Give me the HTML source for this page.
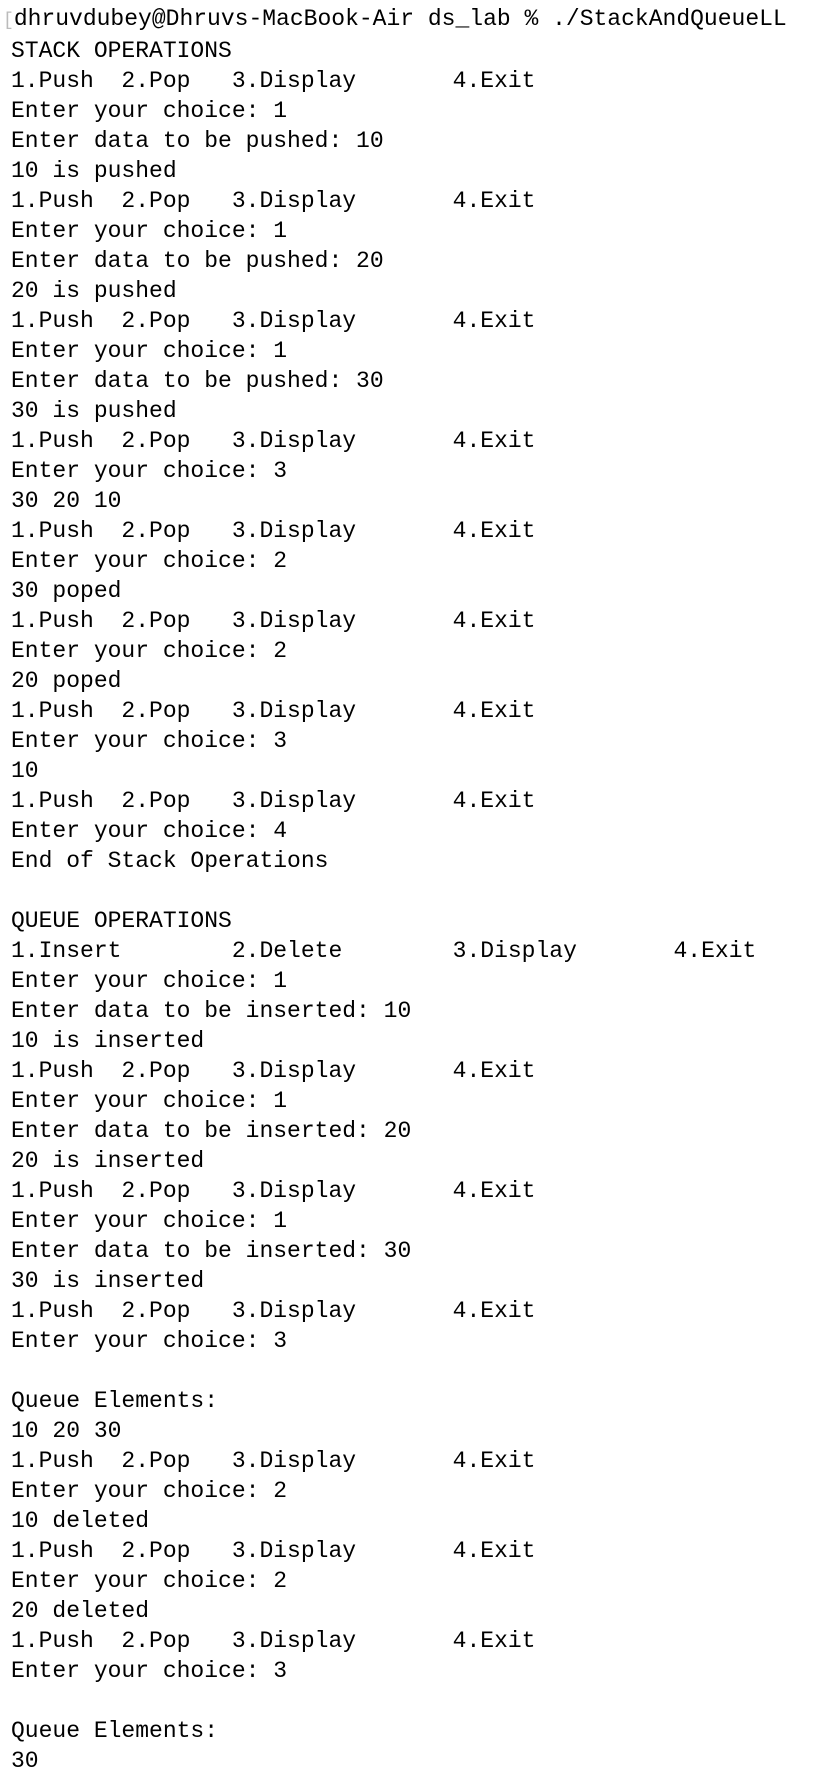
<!DOCTYPE html>
<html><head><meta charset="utf-8"><style>
html,body{margin:0;padding:0;background:#fff;width:827px;height:1756px;overflow:hidden}
pre{margin:0;position:absolute;left:11px;top:4px;font-family:"Liberation Mono",monospace;font-size:23px;line-height:30px;color:#000;tab-size:8;-moz-tab-size:8}
.g{color:#bbb;margin-left:-8px;font-size:18px}
</style></head><body>
<pre><span class="g">[</span>dhruvdubey@Dhruvs-MacBook-Air ds_lab % ./StackAndQueueLL
STACK OPERATIONS
1.Push  2.Pop   3.Display       4.Exit
Enter your choice: 1
Enter data to be pushed: 10
10 is pushed
1.Push  2.Pop   3.Display       4.Exit
Enter your choice: 1
Enter data to be pushed: 20
20 is pushed
1.Push  2.Pop   3.Display       4.Exit
Enter your choice: 1
Enter data to be pushed: 30
30 is pushed
1.Push  2.Pop   3.Display       4.Exit
Enter your choice: 3
30 20 10
1.Push  2.Pop   3.Display       4.Exit
Enter your choice: 2
30 poped
1.Push  2.Pop   3.Display       4.Exit
Enter your choice: 2
20 poped
1.Push  2.Pop   3.Display       4.Exit
Enter your choice: 3
10
1.Push  2.Pop   3.Display       4.Exit
Enter your choice: 4
End of Stack Operations

QUEUE OPERATIONS
1.Insert        2.Delete        3.Display       4.Exit
Enter your choice: 1
Enter data to be inserted: 10
10 is inserted
1.Push  2.Pop   3.Display       4.Exit
Enter your choice: 1
Enter data to be inserted: 20
20 is inserted
1.Push  2.Pop   3.Display       4.Exit
Enter your choice: 1
Enter data to be inserted: 30
30 is inserted
1.Push  2.Pop   3.Display       4.Exit
Enter your choice: 3

Queue Elements:
10 20 30
1.Push  2.Pop   3.Display       4.Exit
Enter your choice: 2
10 deleted
1.Push  2.Pop   3.Display       4.Exit
Enter your choice: 2
20 deleted
1.Push  2.Pop   3.Display       4.Exit
Enter your choice: 3

Queue Elements:
30</pre>
</body></html>
